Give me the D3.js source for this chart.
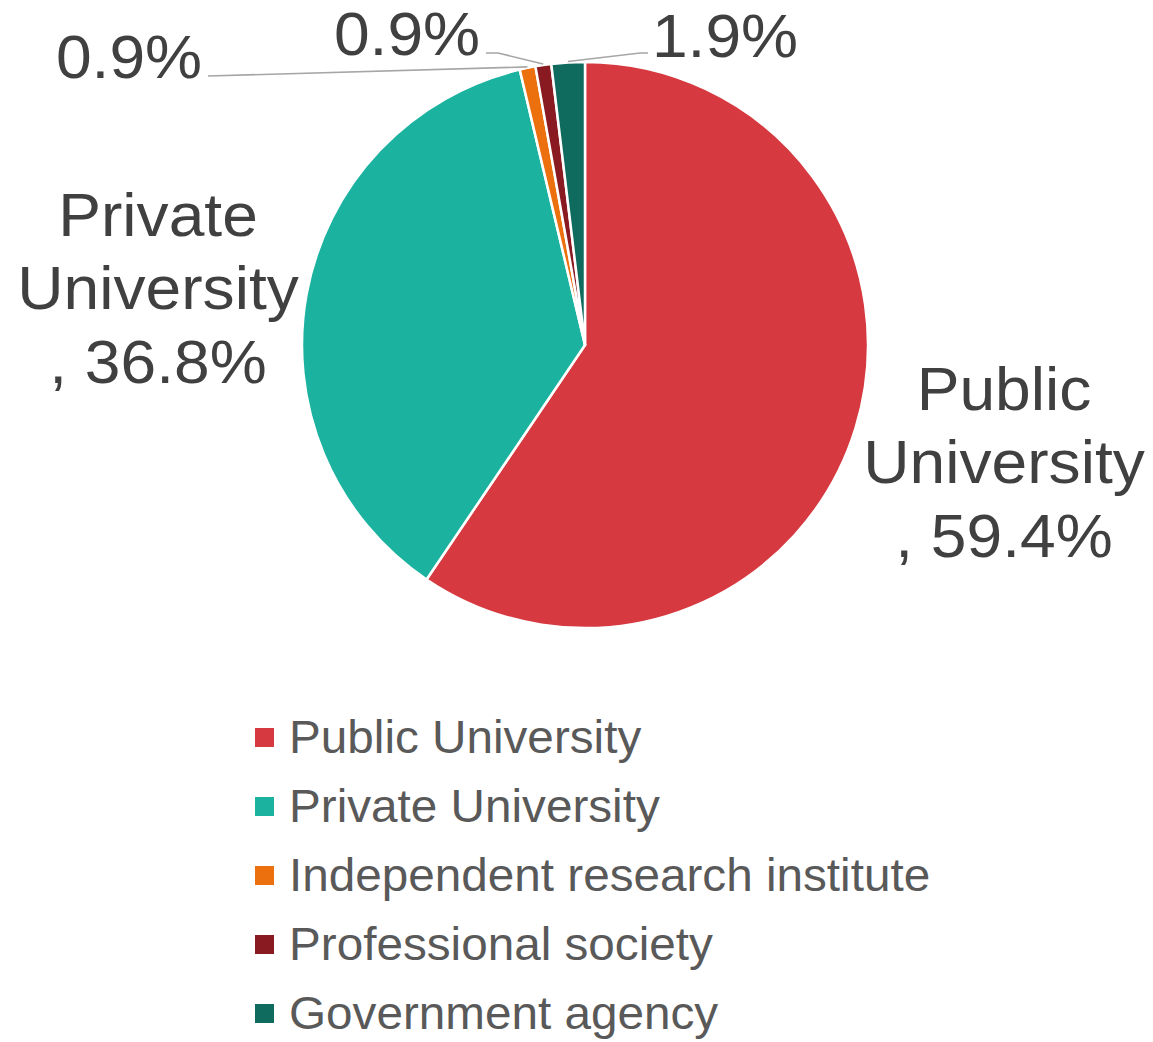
<!DOCTYPE html>
<html>
<head>
<meta charset="utf-8">
<script src="https://cdn.jsdelivr.net/npm/d3@7"></script>
<style>
  html, body { margin: 0; padding: 0; background: #fff; }
  svg { display: block; font-family: "Liberation Sans", Arial, sans-serif; }
</style>
</head>
<body>
<svg id="chart" width="1153" height="1042"></svg>
<script>
// Share of organisations by type (percent)
const categories = ["Public University", "Private University", "Independent research institute", "Professional society", "Government agency"];
const values = [59.4, 36.8, 0.9, 0.9, 1.9];
const colors = ["#d6393f", "#1bb3a0", "#ec700e", "#8a1a22", "#0f6b5e"];

// Category text shown inside each data label (empty = value only)
const labelNames = [["Public", "University"], ["Private", "University"], [], [], []];

const svg = d3.select("#chart");
const cx = 585, cy = 345, R = 283;
const textStretch = 1.035;

const pie = d3.pie().sort(null).value(d => d);
const arcs = pie(values);
const arc = d3.arc().innerRadius(0).outerRadius(R);

const g = svg.append("g").attr("transform", `translate(${cx},${cy})`);
g.selectAll("path.slice")
  .data(arcs)
  .join("path")
  .attr("class", "slice")
  .attr("d", arc)
  .attr("fill", (d, i) => colors[i])
  .attr("stroke", "#ffffff")
  .attr("stroke-width", 2.5)
  .attr("stroke-linejoin", "round");

// Label placement (centre of the first baseline)
const labelPos = [
  { x: 1004, y: 410 },
  { x: 158,  y: 236 },
  { x: 129,  y: 78 },
  { x: 407,  y: 55 },
  { x: 725,  y: 57 }
];
// Leader line points on the label side, null = no leader
const leaderPts = [
  null,
  null,
  [[208, 76]],
  [[486, 53], [498, 53]],
  [[648, 53], [640, 53]]
];

const fmt = v => v.toFixed(1) + "%";
const lineH = 73.5;

const labels = svg.append("g")
  .attr("fill", "#404040")
  .attr("font-size", 62)
  .attr("text-anchor", "middle");

arcs.forEach((d, i) => {
  const names = labelNames[i];
  const lines = names.length ? names.concat([", " + fmt(values[i])]) : [fmt(values[i])];
  const t = labels.append("text")
    .attr("transform", `translate(${labelPos[i].x},${labelPos[i].y}) scale(${textStretch},1)`);
  lines.forEach((ln, k) => {
    t.append("tspan")
      .attr("x", 0)
      .attr("dy", k === 0 ? 0 : lineH)
      .text(ln);
  });

  if (leaderPts[i]) {
    const mid = (d.startAngle + d.endAngle) / 2;
    const edge = [cx + (R + 1) * Math.sin(mid), cy - (R + 1) * Math.cos(mid)];
    const pts = leaderPts[i].concat([edge]);
    svg.append("path")
      .attr("d", d3.line()(pts))
      .attr("fill", "none")
      .attr("stroke", "#a6a6a6")
      .attr("stroke-width", 1.6);
  }
});

// Legend
const legend = svg.append("g")
  .attr("transform", "translate(255,738)");
const rowH = 69;
const items = legend.selectAll("g.item")
  .data(categories)
  .join("g")
  .attr("class", "item")
  .attr("transform", (d, i) => `translate(0,${i * rowH})`);
items.append("rect")
  .attr("x", 0)
  .attr("y", -10)
  .attr("width", 19)
  .attr("height", 19)
  .attr("fill", (d, i) => colors[i]);
items.append("text")
  .attr("transform", "translate(34,15) scale(1.025,1)")
  .attr("font-size", 46.5)
  .attr("fill", "#595959")
  .text(d => d);
</script>
</body>
</html>
